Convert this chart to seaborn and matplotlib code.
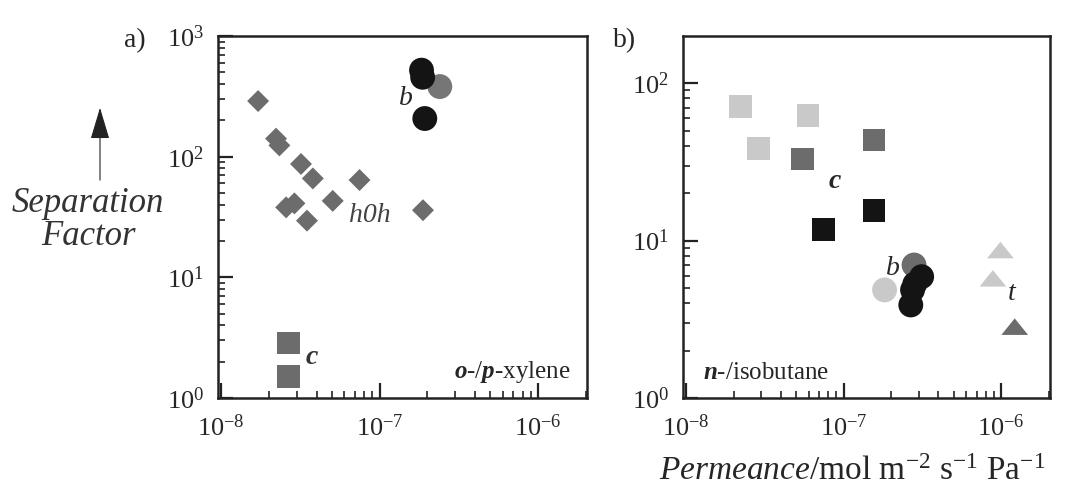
import numpy as np
import pandas as pd
import matplotlib
matplotlib.use('Agg')
import matplotlib.pyplot as plt
import seaborn as sns

# ---- data ----
# panel a) o-/p-xylene
a_h0h_x = [1.71e-8, 2.22e-8, 2.33e-8, 3.19e-8, 3.79e-8, 7.47e-8, 5.06e-8, 2.57e-8, 2.90e-8, 3.48e-8, 1.88e-7]
a_h0h_y = [289, 141, 124, 87, 66, 64, 43, 38, 41, 29.5, 36]
a_b_black_x = [1.84e-7, 1.87e-7, 1.93e-7]
a_b_black_y = [521, 455, 207]
a_b_gray_x = [2.40e-7]
a_b_gray_y = [381]
a_c_x = [2.65e-8, 2.65e-8]
a_c_y = [2.86, 1.51]

# panel b) n-/isobutane
b_c_light_x = [2.21e-8, 2.87e-8, 5.94e-8]
b_c_light_y = [71, 38.6, 62]
b_c_gray_x = [5.48e-8, 1.56e-7]
b_c_gray_y = [33, 43.6]
b_c_black_x = [7.43e-8, 1.56e-7]
b_c_black_y = [11.8, 15.5]
b_b_light_x = [1.82e-7]
b_b_light_y = [4.86]
b_b_gray_x = [2.80e-7]
b_b_gray_y = [7.0]
b_b_black_x = [3.13e-7, 2.83e-7, 2.74e-7, 2.67e-7]
b_b_black_y = [5.9, 5.3, 4.86, 3.9]
b_t_light_x = [9.9e-7, 8.87e-7]
b_t_light_y = [8.71, 5.76]
b_t_gray_x = [1.22e-6]
b_t_gray_y = [2.84]

LIGHT = '#c9c9c9'
GRAY = '#6c6c6c'
BLACK = '#141414'
tri = [(-1, -0.62), (1, -0.62), (0, 0.62), (-1, -0.62)]

sns.set_style('ticks')
plt.rcParams['font.family'] = ['Liberation Serif', 'DejaVu Serif']
plt.rcParams['mathtext.fontset'] = 'custom'
plt.rcParams['mathtext.rm'] = 'Liberation Serif'
plt.rcParams['mathtext.it'] = 'Liberation Serif:italic'
plt.rcParams['mathtext.bf'] = 'Liberation Serif:italic:bold'
plt.rcParams['axes.unicode_minus'] = False

fig = plt.figure(figsize=(10.73, 4.93), dpi=100)
ax1 = fig.add_axes([0.2032, 0.1927, 0.3439, 0.7343])
ax2 = fig.add_axes([0.6365, 0.1927, 0.3420, 0.7343])


def pts(ax, x, y, color, marker, s):
    df = pd.DataFrame({'x': x, 'y': y})
    sns.scatterplot(data=df, x='x', y='y', ax=ax, color=color, marker=marker,
                    s=s, edgecolor='none', linewidth=0, legend=False)


# panel a
pts(ax1, a_h0h_x, a_h0h_y, GRAY, 'D', 125)
pts(ax1, a_b_gray_x, a_b_gray_y, '#767676', 'o', 320)
pts(ax1, a_b_black_x, a_b_black_y, BLACK, 'o', 320)
pts(ax1, a_c_x, a_c_y, GRAY, 's', 270)

# panel b
pts(ax2, b_c_light_x, b_c_light_y, LIGHT, 's', 270)
pts(ax2, b_c_gray_x, b_c_gray_y, GRAY, 's', 270)
pts(ax2, b_c_black_x, b_c_black_y, BLACK, 's', 270)
pts(ax2, b_b_light_x, b_b_light_y, LIGHT, 'o', 320)
pts(ax2, b_b_gray_x, b_b_gray_y, GRAY, 'o', 320)
pts(ax2, b_b_black_x, b_b_black_y, BLACK, 'o', 320)
pts(ax2, b_t_light_x, b_t_light_y, LIGHT, tri, 370)
pts(ax2, b_t_gray_x, b_t_gray_y, GRAY, tri, 370)

for ax, top in [(ax1, 1000), (ax2, 10 ** 2.3)]:
    ax.set_xscale('log')
    ax.set_yscale('log')
    ax.set_xlim(10 ** -8.02, 10 ** -5.69)
    ax.set_ylim(1, top)
    ax.set_xlabel('')
    ax.set_ylabel('')
    for sp in ax.spines.values():
        sp.set_visible(True)
        sp.set_linewidth(1.8)
        sp.set_color('#222222')
    ax.set_xticks([1e-8, 1e-7, 1e-6])
    ax.tick_params(which='major', direction='in', length=11, width=1.6,
                   labelsize=19, top=False, right=False, color='#222222')
    ax.tick_params(which='minor', direction='in', length=5, width=1.2,
                   top=False, right=False, color='#222222')
    ax.tick_params(axis='x', which='major', pad=12)
    ax.tick_params(axis='y', which='major', pad=10)
ax2.set_yticks([1, 10, 100])

# annotations
ax1.text(1.47e-7, 304, 'b', fontsize=20, style='italic', ha='center', va='center')
ax1.text(8.64e-8, 32.4, 'h0h', fontsize=20, style='italic', ha='center', va='center', color='#444444')
ax1.text(3.75e-8, 2.15, 'c', fontsize=20, style='italic', weight='bold', ha='center', va='center', color='#333333')
ax1.text(0.955, 0.073, r'$\mathbf{o}$-/$\mathbf{p}$-xylene', transform=ax1.transAxes,
         fontsize=18, ha='right', va='center')
ax2.text(8.79e-8, 23.7, 'c', fontsize=20, style='italic', weight='bold', ha='center', va='center')
ax2.text(2.05e-7, 6.67, 'b', fontsize=20, style='italic', ha='center', va='center')
ax2.text(1.17e-6, 4.63, 't', fontsize=20, style='italic', ha='center', va='center')
ax2.text(0.054, 0.068, r'$\mathbf{n}$-/isobutane', transform=ax2.transAxes,
         fontsize=18, ha='left', va='center')

fig.text(0.126, 0.918, 'a)', fontsize=20, ha='center', va='center')
fig.text(0.5825, 0.918, 'b)', fontsize=20, ha='center', va='center')
fig.text(0.082, 0.553, 'Separation\nFactor', fontsize=25, style='italic',
         ha='center', va='center', linespacing=1.0, color='#333333')
fig.patches.append(matplotlib.patches.FancyArrowPatch(
    (0.0932, 0.629), (0.0932, 0.787), transform=fig.transFigure,
    arrowstyle='-|>,head_length=1.0,head_width=0.3', mutation_scale=20,
    color='#222222', lw=0.8))
fig.text(0.794, 0.043, r'$\mathit{Permeance}$/mol m$^{-2}$ s$^{-1}$ Pa$^{-1}$',
         fontsize=24, ha='center', va='center')

fig.savefig('out.png', dpi=100, facecolor='white')
